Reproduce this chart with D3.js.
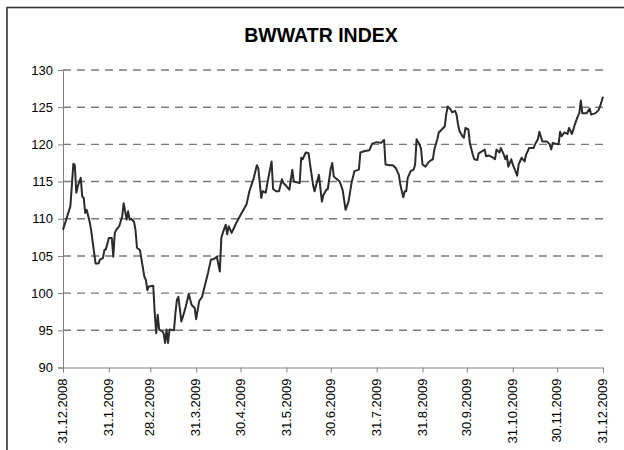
<!DOCTYPE html>
<html>
<head>
<meta charset="utf-8">
<script src="https://cdn.jsdelivr.net/npm/d3@7"></script>
<style>
  body { margin: 0; background: #fff; }
  svg { display: block; font-family: "Liberation Sans", Arial, sans-serif; }
</style>
</head>
<body>
<script>
// series: days after 31.12.2008 and index level
const startDate = "2008-12-31";
const dayOffsets = [
  0, 5, 7, 8, 9, 10, 12, 13, 14, 15,
  16, 18, 19, 22, 24, 25, 27, 28, 29, 31,
  33, 34, 35, 36, 38, 40, 41, 43, 44, 45,
  46, 48, 49, 50, 52, 55, 56, 57, 58, 61,
  62, 63, 64, 65, 67, 68, 69, 70, 71, 72,
  75, 76, 77, 78, 80, 81, 83, 85, 86, 87,
  89, 90, 92, 94, 96, 98, 100, 102, 104, 106,
  107, 108, 110, 111, 112, 114, 117, 120, 124, 126,
  129, 131, 132, 134, 135, 137, 139, 141, 142, 144,
  146, 148, 149, 151, 153, 155, 156, 158, 160, 161,
  162, 164, 166, 167, 169, 170, 173, 174, 175, 176,
  178, 179, 181, 182, 183, 184, 187, 189, 191, 193,
  195, 197, 200, 201, 204, 207, 209, 212, 215, 217,
  218, 221, 223, 225, 227, 228, 230, 231, 232, 233,
  235, 237, 238, 239, 241, 242, 243, 245, 247, 249,
  250, 251, 253, 254, 257, 258, 259, 260, 262, 263,
  265, 266, 267, 268, 270, 271, 272, 274, 275, 277,
  278, 280, 281, 285, 286, 288, 290, 292, 293, 295,
  296, 298, 299, 300, 301, 303, 304, 307, 308, 310,
  312, 313, 315, 318, 319, 321, 322, 324, 327, 329,
  330, 331, 335, 336, 337, 339, 341, 342, 344, 346,
  348, 349, 350, 351, 354, 356, 357, 360, 362, 363, 365
];
const indexValues = [
  108.5, 111.7, 117.4, 117.2, 113.5, 114.4, 115.5, 113.0, 112.8, 110.8,
  111.2, 109.6, 108.5, 104.0, 104.0, 104.5, 104.7, 105.8, 105.9, 107.4,
  107.4, 104.9, 108.1, 108.5, 109.0, 110.3, 112.1, 109.9, 111.0, 109.9,
  110.0, 109.6, 108.5, 106.1, 105.8, 102.2, 101.8, 100.4, 100.9, 101.0,
  97.3, 94.6, 97.1, 95.1, 94.9, 94.6, 93.3, 95.1, 93.3, 95.1,
  95.0, 97.3, 99.1, 99.5, 96.2, 96.8, 98.2, 99.9, 99.1, 98.4,
  98.0, 96.5, 98.9, 99.5, 101.1, 102.7, 104.5, 104.6, 104.9, 102.9,
  107.4, 108.1, 109.2, 107.9, 109.0, 108.1, 109.4, 110.5, 111.9, 113.7,
  115.5, 117.2, 116.8, 112.8, 113.7, 113.5, 115.7, 117.7, 114.0, 113.7,
  113.7, 115.3, 114.8, 114.4, 113.9, 116.6, 115.0, 114.9, 114.8, 118.2,
  118.0, 118.9, 118.8, 117.3, 114.6, 113.7, 115.9, 114.1, 112.3, 113.2,
  113.9, 114.0, 116.8, 117.5, 115.7, 115.5, 115.0, 113.9, 111.2, 112.3,
  114.8, 116.4, 116.6, 118.9, 119.1, 119.2, 120.1, 120.3, 120.2, 120.6,
  117.3, 117.2, 117.2, 116.8, 115.9, 114.6, 112.9, 113.7, 113.7, 115.5,
  116.4, 116.6, 117.3, 120.7, 120.0, 119.4, 117.3, 117.0, 117.6, 117.9,
  118.0, 119.3, 120.7, 121.6, 122.2, 122.4, 124.0, 125.1, 124.7, 124.3,
  124.5, 124.0, 122.7, 121.8, 121.1, 120.9, 122.2, 122.0, 120.2, 118.6,
  118.0, 117.9, 118.8, 119.3, 118.4, 118.5, 118.3, 118.0, 119.3, 118.9,
  119.5, 118.6, 118.0, 118.5, 117.0, 118.0, 117.3, 115.8, 117.3, 118.2,
  117.7, 118.6, 119.5, 119.5, 120.0, 120.7, 121.7, 120.4, 120.4, 120.0,
  119.3, 120.2, 120.0, 121.7, 121.1, 121.6, 121.4, 122.2, 121.4, 122.7,
  123.8, 124.2, 125.9, 124.2, 124.2, 124.8, 124.0, 124.2, 124.6, 125.1, 126.4
];
const tickDates = [
  "2008-12-31", "2009-01-31", "2009-02-28", "2009-03-31", "2009-04-30",
  "2009-05-31", "2009-06-30", "2009-07-31", "2009-08-31", "2009-09-30",
  "2009-10-31", "2009-11-30", "2009-12-31"
];
const yTicks = [90, 95, 100, 105, 110, 115, 120, 125, 130];
const title = "BWWATR INDEX";

const width = 624;
const height = 450;
const parse = d3.timeParse("%Y-%m-%d");
const fmt = d3.timeFormat("%-d.%-m.%Y");
const base = parse(startDate);

const data = dayOffsets.map((d, i) => ({
  date: d3.timeDay.offset(base, d),
  value: indexValues[i]
}));

const svg = d3.select("body")
  .append("svg")
  .attr("width", width)
  .attr("height", height);

// chart frame, cut by the window on the right and bottom
svg.append("rect")
  .attr("x", 7)
  .attr("y", 7.5)
  .attr("width", 700)
  .attr("height", 500)
  .attr("fill", "none")
  .attr("stroke", "#333")
  .attr("stroke-width", 1.6);

svg.append("text")
  .attr("x", 321)
  .attr("y", 42)
  .attr("text-anchor", "middle")
  .attr("font-size", 19.5)
  .attr("font-weight", "bold")
  .attr("fill", "#000")
  .text(title);

const x = d3.scaleTime()
  .domain([parse(tickDates[0]), parse(tickDates[tickDates.length - 1])])
  .range([63, 603]);

const y = d3.scaleLinear()
  .domain([90, 130])
  .range([367.5, 70]);

// dashed gridlines
svg.append("g")
  .selectAll("line")
  .data(yTicks.filter(t => t > 90))
  .join("line")
  .attr("x1", 63)
  .attr("x2", 603)
  .attr("y1", d => y(d))
  .attr("y2", d => y(d))
  .attr("stroke", "#7a7a7a")
  .attr("stroke-width", 1.4)
  .attr("stroke-dasharray", "8,6");

const yAxis = svg.append("g")
  .attr("transform", "translate(63,0)")
  .call(d3.axisLeft(y).tickValues(yTicks).tickSize(5).tickPadding(5));

const xAxis = svg.append("g")
  .attr("transform", `translate(0,${y(90)})`)
  .call(d3.axisBottom(x).tickValues(tickDates.map(parse)).tickSize(5).tickFormat(fmt));

[yAxis, xAxis].forEach(g => {
  g.select(".domain").attr("stroke", "#808080");
  g.selectAll(".tick line").attr("stroke", "#808080");
  g.selectAll("text")
    .attr("fill", "#000")
    .attr("font-size", 13)
    .attr("font-family", "Liberation Sans, Arial, sans-serif");
});

xAxis.selectAll("text")
  .attr("transform", "rotate(-90)")
  .attr("text-anchor", "end")
  .attr("x", -11)
  .attr("y", 0)
  .attr("dy", "0.28em");

const line = d3.line()
  .x(d => x(d.date))
  .y(d => y(d.value));

svg.append("path")
  .datum(data)
  .attr("d", line)
  .attr("fill", "none")
  .attr("stroke", "#2b2b2b")
  .attr("stroke-width", 2)
  .attr("stroke-linejoin", "round");
</script>
</body>
</html>
